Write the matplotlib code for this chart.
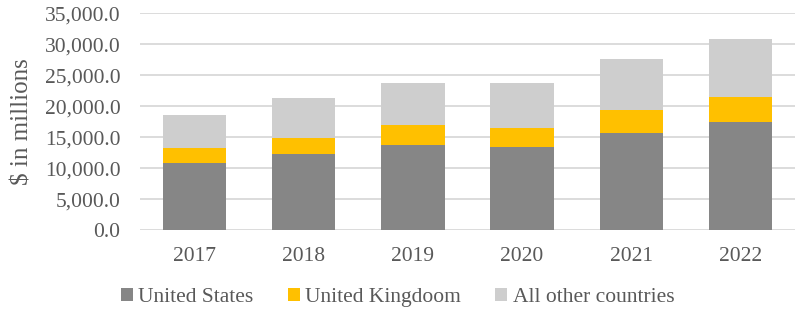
import matplotlib
matplotlib.use('Agg')
from matplotlib import pyplot as plt
from matplotlib.ticker import FuncFormatter
import numpy as np

plt.rcParams['font.family'] = ['Liberation Serif', 'DejaVu Serif']

years = ['2017', '2018', '2019', '2020', '2021', '2022']
united_states = [10900, 12300, 13800, 13400, 15700, 17400]
united_kingdom = [2400, 2500, 3100, 3100, 3700, 4100]
other_countries = [5300, 6500, 6900, 7300, 8200, 9300]

text_color = '#595959'
grid_color = '#d9d9d9'

fig = plt.figure(figsize=(7.95, 3.2), dpi=100)
ax = fig.add_axes([0.176, 0.281, 0.824, 0.678])

x = np.arange(len(years))
w = 0.58
us = np.array(united_states)
uk = np.array(united_kingdom)
oth = np.array(other_countries)

ax.bar(x, us, w, color='#868686', label='United States', zorder=3)
ax.bar(x, uk, w, bottom=us, color='#ffc000', label='United Kingdoom', zorder=3)
ax.bar(x, oth, w, bottom=us + uk, color='#cecece', label='All other countries', zorder=3)

ax.set_xlim(-0.5, len(years) - 0.5)
ax.set_ylim(0, 35000)
ax.set_yticks(np.arange(0, 35001, 5000))
ax.yaxis.set_major_formatter(FuncFormatter(lambda v, p: '{:,.1f}'.format(v)))
ax.set_xticks(x)
ax.set_xticklabels(years)

ax.grid(axis='y', color=grid_color, linewidth=1.3, zorder=0)
for s in ax.spines.values():
    s.set_visible(False)
ax.tick_params(axis='both', length=0, labelsize=15.5, labelcolor=text_color)
ax.tick_params(axis='y', pad=14)
ax.tick_params(axis='x', pad=12)

ax.set_ylabel('$ in millions', fontsize=18, color=text_color, labelpad=8)

fig.legend(loc='center', bbox_to_anchor=(0.5, 0.07), ncol=3, frameon=False,
           fontsize=15.5, labelcolor=text_color, handlelength=0.55, handleheight=0.55,
           handletextpad=0.25, columnspacing=1.6)

fig.savefig('out.png', dpi=100)
